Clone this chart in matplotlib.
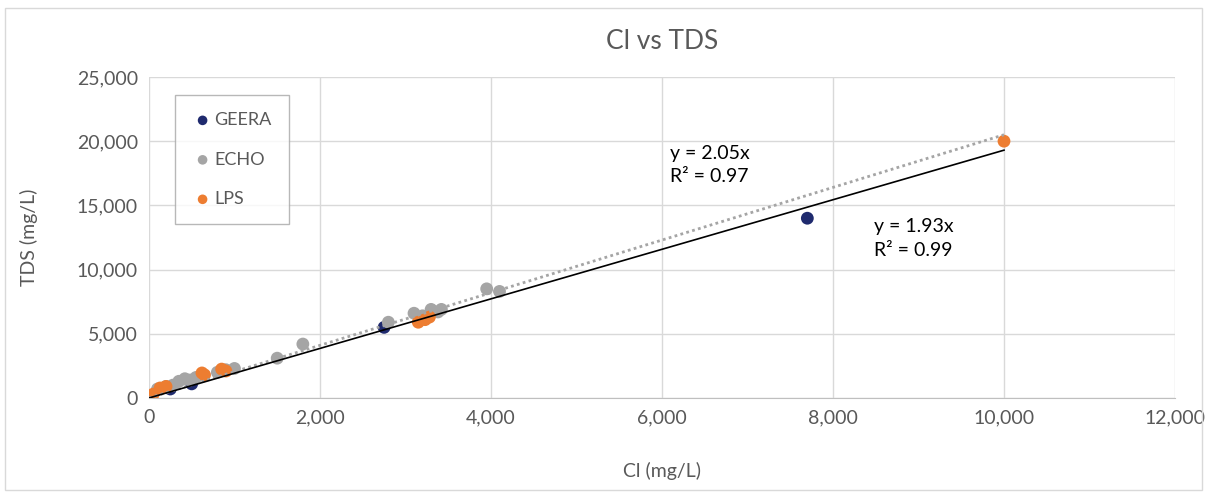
import numpy as np
import matplotlib.pyplot as plt
from matplotlib.patches import Rectangle

# data
geera_cl = [7700, 2750, 250, 500]
geera_tds = [14000, 5500, 700, 1100]

echo_cl = [100, 200, 280, 350, 420, 480, 550, 800, 900, 1000, 1500, 1800,
           2800, 3100, 3200, 3300, 3380, 3420, 3950, 4100]
echo_tds = [700, 900, 1000, 1300, 1500, 1400, 1600, 2000, 2200, 2300, 3100, 4200,
            5900, 6600, 6400, 6900, 6700, 6900, 8500, 8300]

lps_cl = [0, 50, 130, 200, 620, 650, 850, 900, 3150, 3230, 3280, 10000]
lps_tds = [100, 300, 780, 900, 1950, 1800, 2250, 2100, 5900, 6100, 6300, 20000]

fit_x = [0, 10000]
slope_echo = 2.05
slope_all = 1.93

plt.rcParams['font.family'] = ['Lato', 'DejaVu Sans']
txt = '#595959'

fig = plt.figure(figsize=(12.07, 4.96), dpi=100)
ax = fig.add_axes([0.1234, 0.1976, 0.8501, 0.6472])

ax.scatter(geera_cl, geera_tds, s=85, color='#1f2a6e', label='GEERA', zorder=3, edgecolors='none')
ax.scatter(echo_cl, echo_tds, s=85, color='#a5a5a5', label='ECHO', zorder=3, edgecolors='none')
ax.scatter(lps_cl, lps_tds, s=85, color='#ed7d31', label='LPS', zorder=3, edgecolors='none')

fx = np.array(fit_x)
ax.plot(fx, slope_echo * fx, color='#a5a5a5', lw=2, ls=(0, (1, 1.2)), zorder=4)
ax.plot(fx, slope_all * fx, color='black', lw=1.2, zorder=4)

ax.text(6090, 19700, 'y = 2.05x\nR² = 0.97', fontsize=14, color='black',
        linespacing=1.45, va='top')
ax.text(8480, 14000, 'y = 1.93x\nR² = 0.99', fontsize=14, color='black',
        linespacing=1.45, va='top')

ax.set_xlim(0, 12000)
ax.set_ylim(0, 25000)
ax.set_xticks(np.arange(0, 12001, 2000))
ax.set_yticks(np.arange(0, 25001, 5000))
ax.xaxis.set_major_formatter(plt.FuncFormatter(lambda v, p: f'{int(v):,}'))
ax.yaxis.set_major_formatter(plt.FuncFormatter(lambda v, p: f'{int(v):,}'))
ax.tick_params(length=0, labelsize=14, labelcolor=txt, pad=8)
ax.grid(color='#d9d9d9', lw=1)
ax.set_axisbelow(True)
for s in ['top', 'right', 'left']:
    ax.spines[s].set_visible(False)
ax.spines['bottom'].set_color('#bfbfbf')

ax.set_title('Cl vs TDS', fontsize=19, color=txt, pad=20)
ax.set_xlabel('Cl (mg/L)', fontsize=14, color=txt, labelpad=26)
ax.set_ylabel('TDS (mg/L)', fontsize=14, color=txt, labelpad=28)

leg = ax.legend(loc='upper left', bbox_to_anchor=(0.025, 0.944), frameon=True, fancybox=False,
                edgecolor='#a6a6a6', fontsize=13, handletextpad=0.05, labelspacing=1.3,
                borderpad=0.95, markerscale=0.75, handlelength=1.2, borderaxespad=0)
for t in leg.get_texts():
    t.set_color(txt)

fig.patches.append(Rectangle((0.004, 0.012), 0.992, 0.972, transform=fig.transFigure,
                             fill=False, edgecolor='#d9d9d9', lw=1))

fig.savefig('out.png', dpi=100)
